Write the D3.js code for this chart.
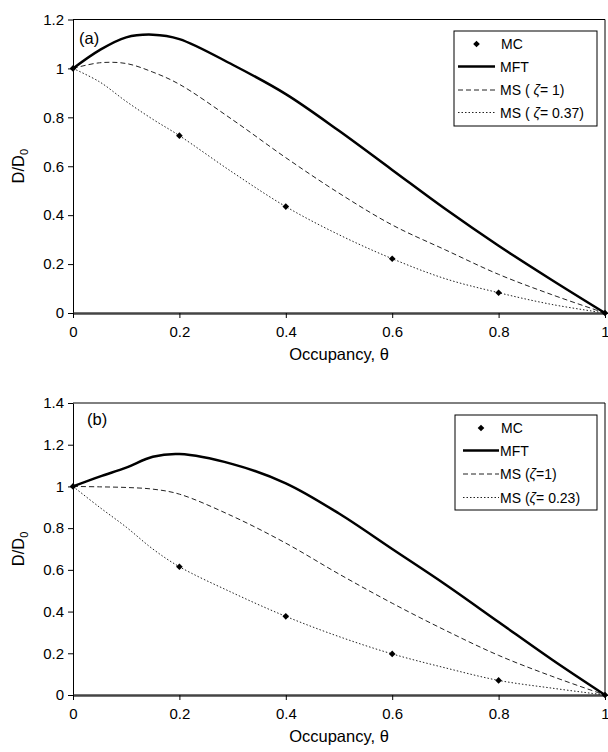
<!DOCTYPE html>
<html>
<head>
<meta charset="utf-8">
<script src="https://cdn.jsdelivr.net/npm/d3@7"></script>
<style>
  body { margin: 0; background: #fff; }
  text { font-family: "Liberation Sans", Arial, sans-serif; fill: #000; }
</style>
</head>
<body>
<div id="chart"></div>
<script>
// ---------------- data ----------------
const theta = [0, 0.05, 0.1, 0.15, 0.2, 0.3, 0.4, 0.5, 0.6, 0.7, 0.8, 0.9, 1];
const mcTheta = [0, 0.2, 0.4, 0.6, 0.8, 1];

// panel (a)
const mcA = [1, 0.725, 0.435, 0.222, 0.083, 0];
const mftA = [1, 1.075, 1.127, 1.138, 1.12, 1.015, 0.895, 0.745, 0.585, 0.425, 0.275, 0.135, 0];
const ms1A = [1, 1.023, 1.02, 0.985, 0.935, 0.79, 0.635, 0.49, 0.36, 0.258, 0.158, 0.075, 0];
const mszA = [1, 0.945, 0.865, 0.792, 0.725, 0.575, 0.435, 0.32, 0.222, 0.14, 0.083, 0.035, 0];

// panel (b)
const mcB = [1, 0.615, 0.377, 0.197, 0.07, 0];
const mftB = [1, 1.047, 1.09, 1.142, 1.155, 1.107, 1.015, 0.87, 0.7, 0.53, 0.35, 0.17, 0];
const ms1B = [1, 0.998, 0.995, 0.987, 0.963, 0.857, 0.728, 0.58, 0.44, 0.31, 0.19, 0.09, 0];
const mszB = [1, 0.9, 0.805, 0.7, 0.615, 0.49, 0.377, 0.28, 0.197, 0.13, 0.07, 0.033, 0];

const xTicks = [0, 0.2, 0.4, 0.6, 0.8, 1];
const yTicksA = [0, 0.2, 0.4, 0.6, 0.8, 1, 1.2];
const yTicksB = [0, 0.2, 0.4, 0.6, 0.8, 1, 1.2, 1.4];

// ---------------- layout ----------------
const width = 608;
const height = 752;
const svg = d3.select('#chart').append('svg')
  .attr('width', width)
  .attr('height', height);

const panels = [
  { tag: '(a)', yMax: 1.2, yTicks: yTicksA, top: 19.5, bottom: 313,
    mc: mcA, mft: mftA, ms1: ms1A, msz: mszA, tagPos: [79, 44],
    legend: { x: 454, y: 31, w: 143, h: 95, rows: [44, 66.5, 90, 112.5], lineX: [458, 495], textX: 500, spaced: true, zeta: '0.37' } },
  { tag: '(b)', yMax: 1.4, yTicks: yTicksB, top: 403, bottom: 695,
    mc: mcB, mft: mftB, ms1: ms1B, msz: mszB, tagPos: [87, 425],
    legend: { x: 455, y: 415, w: 142, h: 95, rows: [428, 450.5, 474, 497.5], lineX: [463, 499], textX: 500, spaced: false, zeta: '0.23' } }
];

const x = d3.scaleLinear().domain([0, 1]).range([73, 605]);

// square turned 45 degrees -> even diamond
const diamond = d3.symbol().type(d3.symbolSquare).size(22);

panels.forEach(p => {
  const y = d3.scaleLinear().domain([0, p.yMax]).range([p.bottom, p.top]);
  const g = svg.append('g');

  // frame (top + right)
  g.append('path')
    .attr('d', `M${x(0)},${y(p.yMax)}H${x(1)}V${y(0)}`)
    .attr('fill', 'none').attr('stroke', '#000').attr('stroke-width', 1);

  // y axis
  const yAxis = g.append('g')
    .attr('transform', `translate(${x(0)},0)`)
    .call(d3.axisLeft(y).tickValues(p.yTicks).tickSize(5).tickSizeOuter(0).tickPadding(4).tickFormat(d3.format('~g')));
  yAxis.select('.domain').attr('stroke', '#000').attr('stroke-width', 1);
  yAxis.selectAll('.tick line').attr('stroke', '#000');
  yAxis.selectAll('text').attr('font-size', 15).attr('font-family', '"Liberation Sans", Arial, sans-serif').attr('fill', '#000');

  // x axis
  const xAxis = g.append('g')
    .attr('transform', `translate(0,${y(0)})`)
    .call(d3.axisBottom(x).tickValues(xTicks).tickSize(5).tickSizeOuter(0).tickPadding(8).tickFormat(d3.format('~g')));
  xAxis.select('.domain').attr('stroke', '#444').attr('stroke-width', 2.5);
  xAxis.selectAll('.tick line').attr('stroke', '#000');
  xAxis.selectAll('text').attr('font-size', 15).attr('font-family', '"Liberation Sans", Arial, sans-serif').attr('fill', '#000');

  // axis titles
  g.append('text')
    .attr('x', (x(0) + x(1)) / 2)
    .attr('y', y(0) + 47)
    .attr('text-anchor', 'middle')
    .attr('font-size', 16.5)
    .text('Occupancy, θ');

  const yl = g.append('text')
    .attr('transform', `translate(24,${(y(0) + y(p.yMax)) / 2}) rotate(-90)`)
    .attr('text-anchor', 'middle')
    .attr('font-size', 16.5);
  yl.append('tspan').text('D/D');
  yl.append('tspan').attr('font-size', 11).attr('dy', 4).text('0');

  // panel tag
  g.append('text')
    .attr('x', p.tagPos[0])
    .attr('y', p.tagPos[1])
    .attr('font-size', 16.5)
    .text(p.tag);

  // curves
  const line = d3.line()
    .x((d, i) => x(theta[i]))
    .y(d => y(d))
    .curve(d3.curveCatmullRom.alpha(0.5));

  g.append('path').datum(p.msz)
    .attr('d', line).attr('fill', 'none')
    .attr('stroke', '#222').attr('stroke-width', 1)
    .attr('stroke-dasharray', '1.5,2');
  g.append('path').datum(p.ms1)
    .attr('d', line).attr('fill', 'none')
    .attr('stroke', '#222').attr('stroke-width', 1)
    .attr('stroke-dasharray', '5,3');
  g.append('path').datum(p.mft)
    .attr('d', line).attr('fill', 'none')
    .attr('stroke', '#000').attr('stroke-width', 2.5);

  // MC points
  g.selectAll('.mc').data(p.mc).enter().append('path')
    .attr('class', 'mc')
    .attr('d', diamond)
    .attr('transform', (d, i) => `translate(${x(mcTheta[i])},${y(d)}) rotate(45)`)
    .attr('fill', '#000');

  // legend
  const L = p.legend;
  const lg = g.append('g');
  lg.append('rect')
    .attr('x', L.x).attr('y', L.y).attr('width', L.w).attr('height', L.h)
    .attr('fill', '#fff').attr('stroke', '#000').attr('stroke-width', 1);

  const mid = (L.lineX[0] + L.lineX[1]) / 2;
  lg.append('path').attr('d', diamond)
    .attr('transform', `translate(${mid},${L.rows[0]}) rotate(45)`).attr('fill', '#000');
  lg.append('line').attr('x1', L.lineX[0]).attr('x2', L.lineX[1])
    .attr('y1', L.rows[1]).attr('y2', L.rows[1])
    .attr('stroke', '#000').attr('stroke-width', 2.5);
  lg.append('line').attr('x1', L.lineX[0]).attr('x2', L.lineX[1])
    .attr('y1', L.rows[2]).attr('y2', L.rows[2])
    .attr('stroke', '#222').attr('stroke-width', 1).attr('stroke-dasharray', '5,3');
  lg.append('line').attr('x1', L.lineX[0]).attr('x2', L.lineX[1])
    .attr('y1', L.rows[3]).attr('y2', L.rows[3])
    .attr('stroke', '#222').attr('stroke-width', 1).attr('stroke-dasharray', '1.5,2');

  const labels = L.spaced
    ? [['MC'], ['MFT'], ['MS ( ', 'ζ', '= 1)'], ['MS ( ', 'ζ', '= ' + L.zeta + ')']]
    : [['MC'], ['MFT'], ['MS (', 'ζ', '=1)'], ['MS (', 'ζ', '= ' + L.zeta + ')']];
  labels.forEach((parts, i) => {
    const t = lg.append('text')
      .attr('x', L.textX + (i === 0 ? 1 : 0))
      .attr('y', L.rows[i] + 5)
      .attr('font-size', 14);
    parts.forEach(s => {
      const ts = t.append('tspan').text(s);
      if (s === 'ζ') ts.attr('font-style', 'italic');
    });
  });
});
</script>
</body>
</html>
